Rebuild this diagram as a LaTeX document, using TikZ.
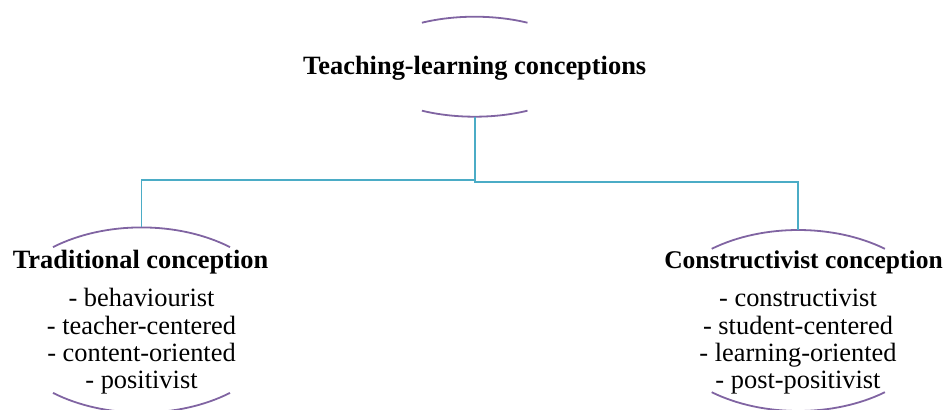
\documentclass[tikz,border=0pt]{standalone}
\usepackage{fontspec}
\setmainfont{Liberation Serif}
\begin{document}
\begin{tikzpicture}[x=1pt,y=-1pt,
  arcline/.style={draw=arcpurple, line width=1.8pt},
  link/.style={draw=linkteal, line width=1.8pt},
  head/.style={anchor=base, inner sep=0pt, font=\fontsize{26.4}{30}\selectfont\bfseries},
  item/.style={anchor=base, inner sep=0pt, font=\fontsize{26.4}{30}\selectfont}]
\definecolor{arcpurple}{HTML}{8064A2}
\definecolor{linkteal}{HTML}{4BACC6}
\useasboundingbox (0,0) rectangle (946,410);
% centres of the ellipse shapes
\coordinate (tc) at (474.7,66.7);
\coordinate (lc) at (141.5,320);
\coordinate (rc) at (798.3,320.5);
% arcs of the title shape
\draw[arcline] ([shift={(241.6:111 and 50)}]tc) arc[start angle=241.6, end angle=298.4, x radius=111, y radius=50];
\draw[arcline] ([shift={(61.6:111 and 50)}]tc) arc[start angle=61.6, end angle=118.4, x radius=111, y radius=50];
% arcs of the left shape
\draw[arcline] ([shift={(231.9:143.5 and 92.6)}]lc) arc[start angle=231.9, end angle=308.1, x radius=143.5, y radius=92.6];
\draw[arcline] ([shift={(51.9:143.5 and 92.6)}]lc) arc[start angle=51.9, end angle=128.1, x radius=143.5, y radius=92.6];
% arcs of the right shape
\draw[arcline] ([shift={(232.4:141.9 and 90.5)}]rc) arc[start angle=232.4, end angle=307.6, x radius=141.9, y radius=90.5];
\draw[arcline] ([shift={(52.4:141.9 and 90.5)}]rc) arc[start angle=52.4, end angle=127.6, x radius=141.9, y radius=90.5];
% connector end points
\coordinate (tbot) at (474.7,116.7);
\coordinate (ltop) at (141.5,227.4);
\coordinate (rtop) at (798.3,230);
\draw[link] (tbot) -- ++(0,63.3) -| (ltop);
\draw[link] (tbot) -- ++(0,65) -| (rtop);
% texts
\node[head] (title) at (474.7,74) {Teaching-learning conceptions};
\node[head] (trad) at (140.5,268) {Traditional conception};
\node[item] (t1) at (141.5,306.7) {- behaviourist};
\node[item] (t2) at (141.5,334) {- teacher-centered};
\node[item] (t3) at (141.5,361.2) {- content-oriented};
\node[item] (t4) at (141.5,388.4) {- positivist};
\node[head, font=\fontsize{25.5}{30}\selectfont\bfseries] (cons) at (803.5,268) {Constructivist conception};
\node[item] (c1) at (798,306.7) {- constructivist};
\node[item] (c2) at (798,334) {- student-centered};
\node[item] (c3) at (798,361.2) {- learning-oriented};
\node[item] (c4) at (798,388.4) {- post-positivist};
\end{tikzpicture}
\end{document}
